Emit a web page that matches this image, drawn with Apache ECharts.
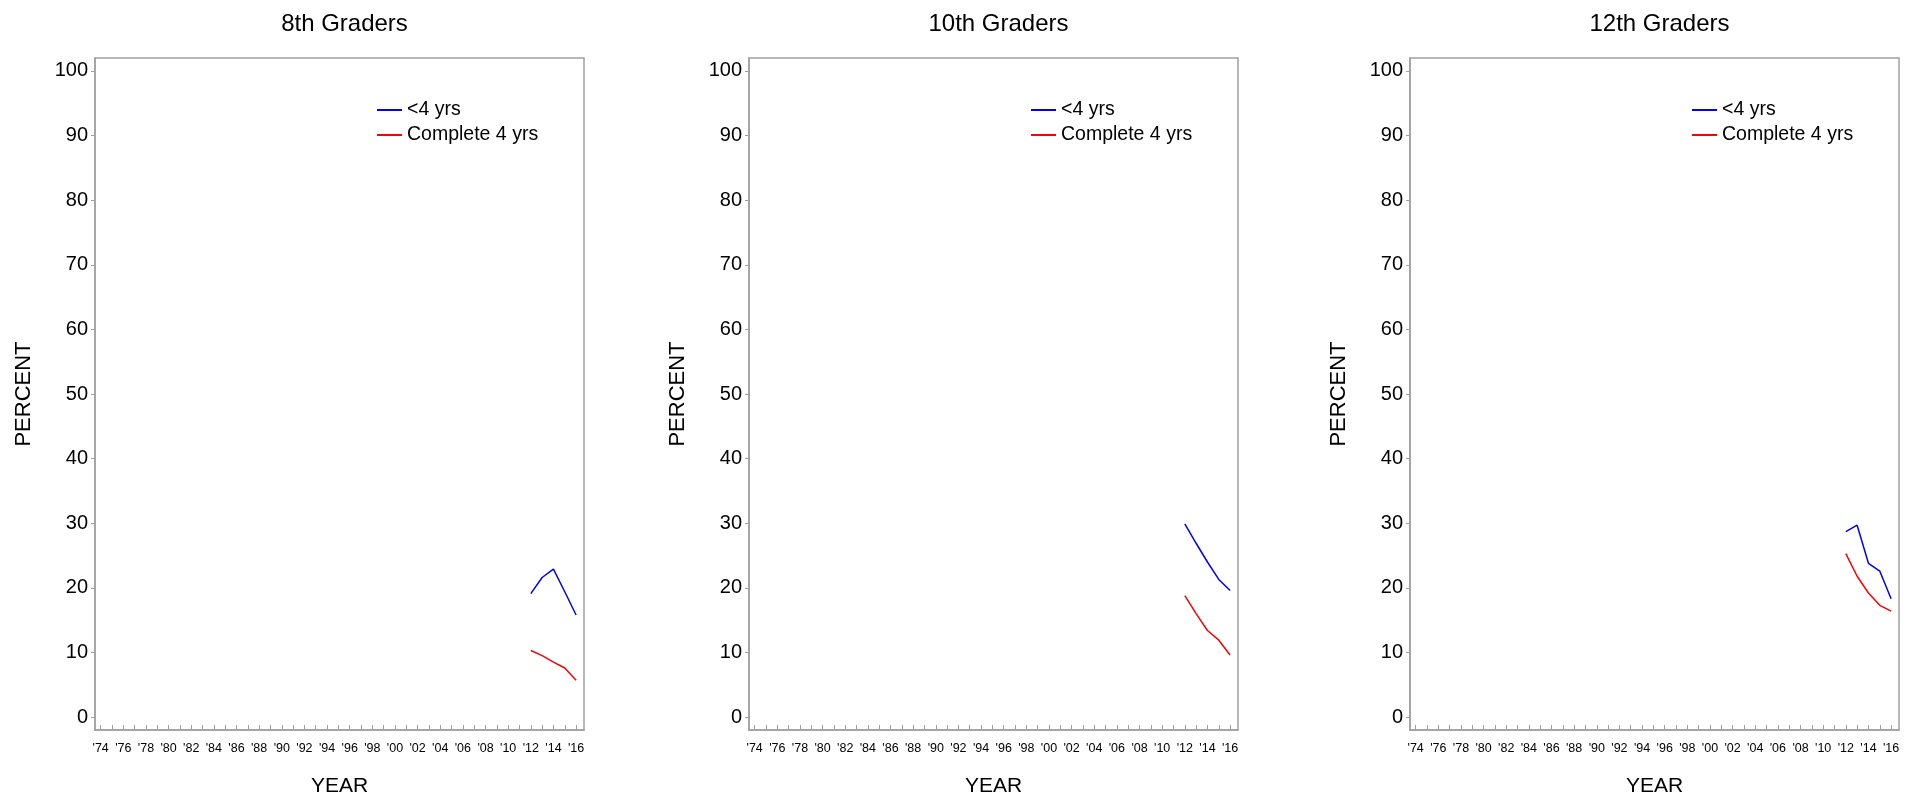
<!DOCTYPE html>
<html><head><meta charset="utf-8">
<script src="https://cdn.jsdelivr.net/npm/echarts@6/dist/echarts.min.js"></script>
<style>html,body{margin:0;padding:0;background:#fff}#c{width:1923px;height:804px}</style>
</head><body><div id="c"></div>
<script>
var titles = ['8th Graders', '10th Graders', '12th Graders'];
var seriesNames = ['<4 yrs', 'Complete 4 yrs'];
var years = [2012, 2013, 2014, 2015, 2016];
var g8Less4 = [19.1, 21.6, 22.9, 19.4, 15.8];
var g8Complete4 = [10.3, 9.5, 8.5, 7.6, 5.7];
var g10Less4 = [29.9, 26.9, 24.0, 21.3, 19.6];
var g10Complete4 = [18.8, 16.0, 13.4, 11.9, 9.6];
var g12Less4 = [28.7, 29.7, 23.8, 22.6, 18.3];
var g12Complete4 = [25.3, 21.8, 19.2, 17.3, 16.4];
var yTicks = [0, 10, 20, 30, 40, 50, 60, 70, 80, 90, 100];
var xTickYears = [];
for (var y = 1974; y <= 2016; y++) xTickYears.push(y);
var xLabelYears = xTickYears.filter(function (v) { return v % 2 === 0; });

var panels = [[g8Less4, g8Complete4], [g10Less4, g10Complete4], [g12Less4, g12Complete4]];
var lefts = [95, 749, 1410];
var gridW = 489, gridTop = 58, gridH = 672;
var colors = ['#0000ff', '#ff0000'];
var axisGray = '#a0a0a0';
var font = 'Liberation Sans, Arial, sans-serif';

var option = {
  animation: false,
  backgroundColor: '#fff',
  title: [], grid: [], xAxis: [], yAxis: [], series: [], legend: []
};
panels.forEach(function (p, i) {
  var cx = lefts[i] + gridW / 2;
  option.title.push({
    text: titles[i], left: cx, top: 7, textAlign: 'center',
    textStyle: { fontFamily: font, fontSize: 24, fontWeight: 'normal', color: '#000' }
  });
  option.grid.push({
    left: lefts[i], top: gridTop, width: gridW, height: gridH,
    show: true, borderColor: axisGray, borderWidth: 1.5, backgroundColor: 'transparent'
  });
  option.xAxis.push({
    type: 'value', gridIndex: i, min: 1973.5, max: 2016.7,
    name: 'YEAR', nameLocation: 'middle', nameGap: 46,
    nameTextStyle: { fontFamily: font, fontSize: 21, color: '#000' },
    axisLine: { show: true, onZero: false, lineStyle: { color: axisGray, width: 1.5 } },
    axisTick: { show: true, inside: true, length: 5, customValues: xTickYears, lineStyle: { color: axisGray } },
    axisLabel: {
      customValues: xLabelYears, margin: 12, fontFamily: font, fontSize: 12.5, color: '#000',
      formatter: function (v) { return "'" + String(v).slice(2); }
    },
    splitLine: { show: false }
  });
  option.yAxis.push({
    type: 'value', gridIndex: i, min: -2, max: 102,
    name: 'PERCENT', nameLocation: 'middle', nameGap: 60, nameRotate: 90,
    nameTextStyle: { fontFamily: font, fontSize: 22, color: '#000' },
    axisLine: { show: true, onZero: false, lineStyle: { color: axisGray, width: 1.5 } },
    axisTick: { show: true, inside: false, length: 4, customValues: yTicks, lineStyle: { color: axisGray } },
    axisLabel: { customValues: yTicks, margin: 7, fontFamily: font, fontSize: 20, color: '#000' },
    splitLine: { show: false }
  });
  p.forEach(function (vals, k) {
    option.series.push({
      name: seriesNames[k], type: 'line', xAxisIndex: i, yAxisIndex: i,
      data: years.map(function (yr, j) { return [yr, vals[j]]; }),
      showSymbol: false, symbol: 'none',
      lineStyle: { color: colors[k], width: 1.5 }, itemStyle: { color: colors[k] }
    });
  });
  option.legend.push({
    data: seriesNames, orient: 'vertical', left: lefts[i] + 277, top: 95,
    icon: 'rect', itemWidth: 25, itemHeight: 2, itemGap: 5,
    selectedMode: false,
    textStyle: { fontFamily: font, fontSize: 19.5, color: '#000' }
  });
});
var chart = echarts.init(document.getElementById('c'), null, { renderer: 'canvas' });
chart.setOption(option);
</script></body></html>
